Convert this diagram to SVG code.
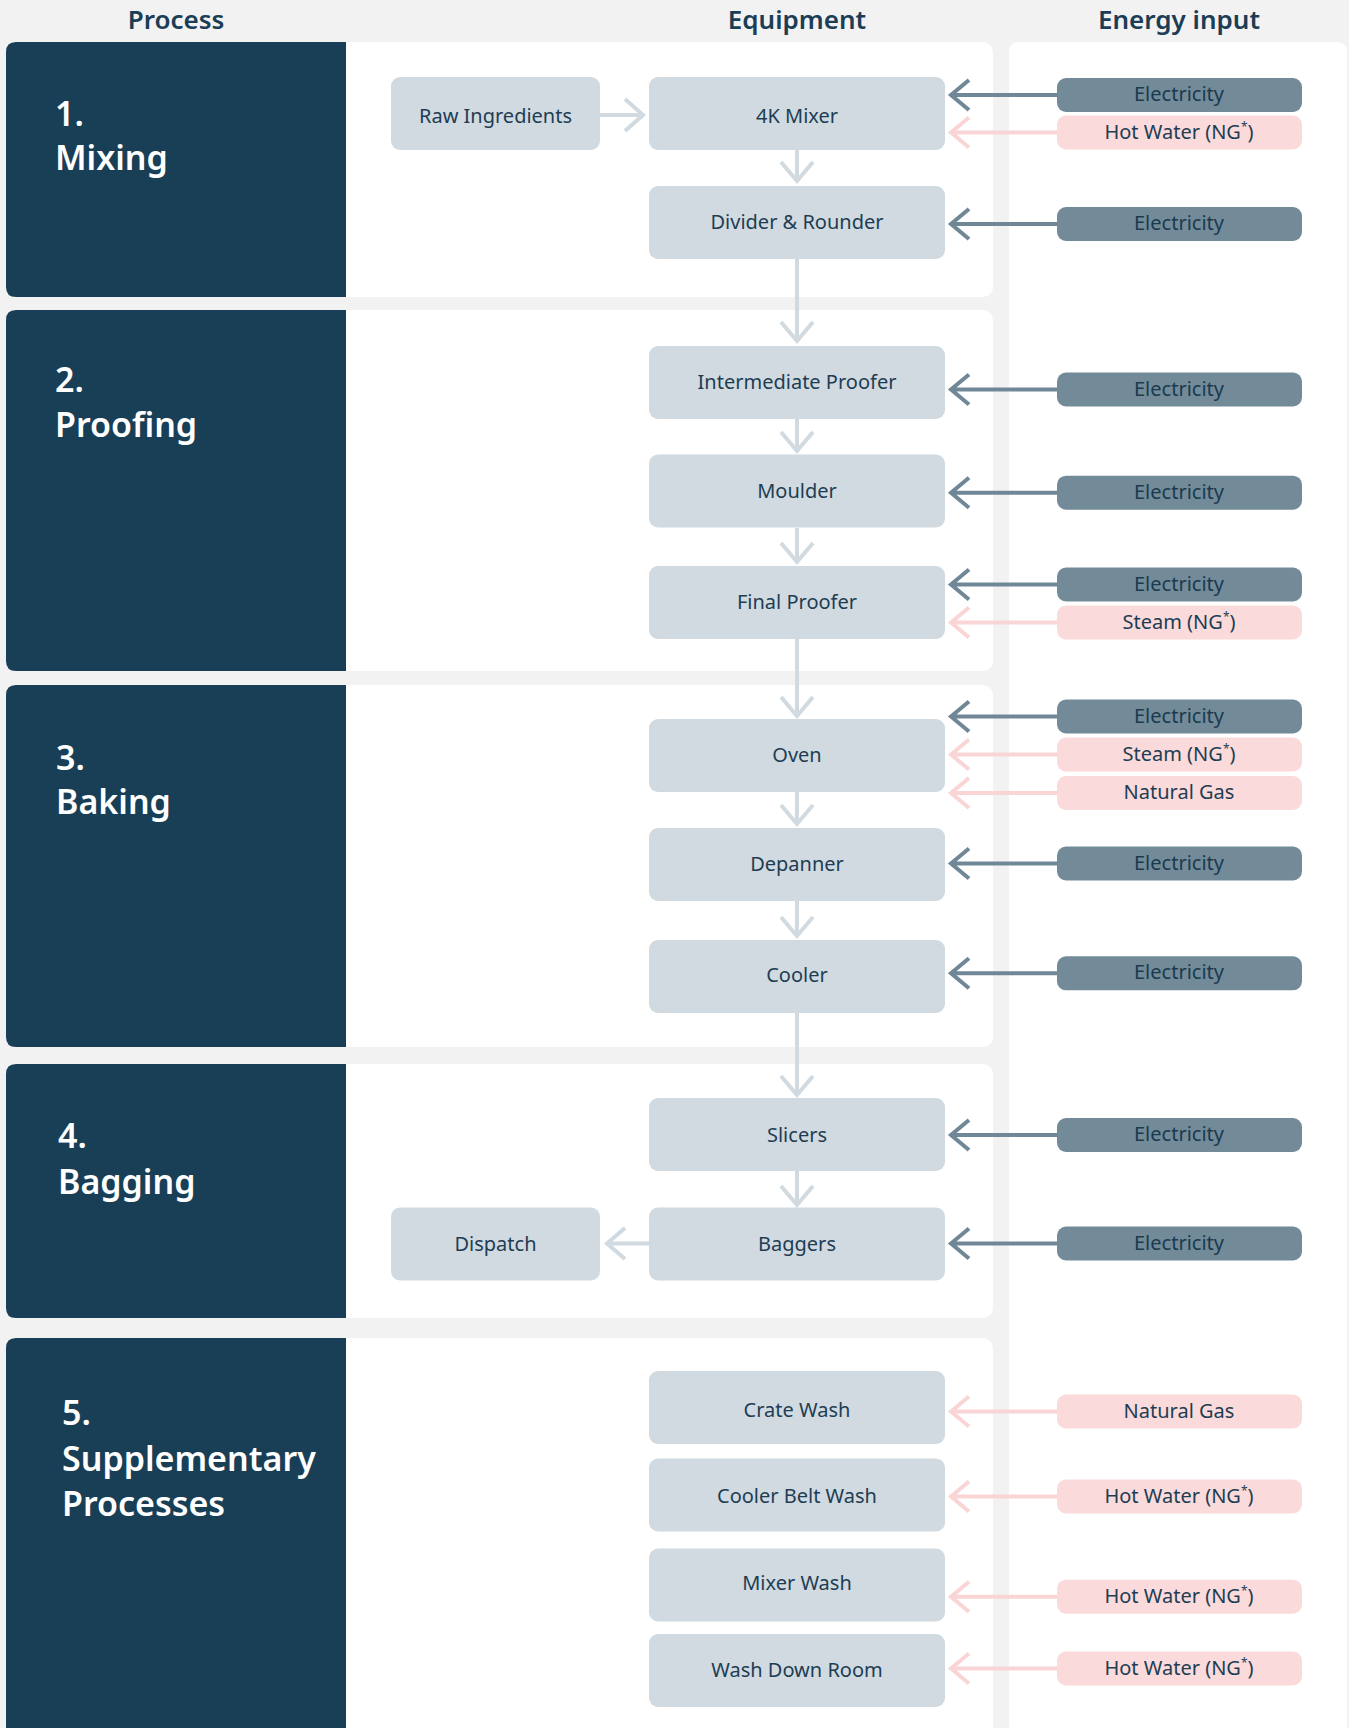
<svg xmlns="http://www.w3.org/2000/svg" width="1349" height="1728" viewBox="0 0 1349 1728">
<defs>
<style>
.bg{fill:#f2f2f2}
.panel{fill:#ffffff}
.dark{fill:#193f57}
.hdr{font-family:"Noto Sans","Open Sans",sans-serif;font-size:26px;font-weight:600;fill:#1b3d55;text-anchor:middle}
.sec{font-family:"Noto Sans","Open Sans",sans-serif;font-size:34px;font-weight:600;fill:#ffffff}
.node rect{fill:#d0dae0}
.lbl{font-family:"Noto Sans","Open Sans",sans-serif;font-size:20px;fill:#1e3d53;text-anchor:middle}
.elec rect{fill:#738b99}
.elec .lbl{fill:#1a3a50;transform:translateY(-1px)}
.ng rect{fill:#fadada}
.ng .lbl{transform:translateY(-1px)}
.sup{font-size:12px}
.c-light{stroke:#d0dae0;stroke-width:4;fill:none;stroke-linejoin:miter}
.c-dark{stroke:#6f8796;stroke-width:4;fill:none;stroke-linejoin:miter}
.c-pink{stroke:#f9d5d5;stroke-width:4;fill:none;stroke-linejoin:miter}
</style>
</defs>
<rect class="bg" x="0" y="0" width="1349" height="1728"/>

<!-- headers -->
<g id="headers">
<text class="hdr" x="176" y="29">Process</text>
<text class="hdr" x="797" y="29">Equipment</text>
<text class="hdr" x="1179" y="29">Energy input</text>
</g>

<!-- energy column panel -->
<path class="panel" d="M1009,1740 V52 Q1009,42 1019,42 H1337 Q1347,42 1347,52 V1740 Z"/>

<!-- sections -->
<g id="section-1">
<rect class="panel" x="6" y="42" width="987" height="255" rx="10"/>
<path class="dark" d="M346,42 V297 H16 Q6,297 6,287 V52 Q6,42 16,42 Z"/>
<text class="sec" x="55" y="126">1.</text>
<text class="sec" x="55" y="170">Mixing</text>
</g>
<g id="section-2">
<rect class="panel" x="6" y="310" width="987" height="361" rx="10"/>
<path class="dark" d="M346,310 V671 H16 Q6,671 6,661 V320 Q6,310 16,310 Z"/>
<text class="sec" x="55" y="392">2.</text>
<text class="sec" x="55" y="437">Proofing</text>
</g>
<g id="section-3">
<rect class="panel" x="6" y="685" width="987" height="362" rx="10"/>
<path class="dark" d="M346,685 V1047 H16 Q6,1047 6,1037 V695 Q6,685 16,685 Z"/>
<text class="sec" x="56" y="770">3.</text>
<text class="sec" x="56" y="814">Baking</text>
</g>
<g id="section-4">
<rect class="panel" x="6" y="1064" width="987" height="254" rx="10"/>
<path class="dark" d="M346,1064 V1318 H16 Q6,1318 6,1308 V1074 Q6,1064 16,1064 Z"/>
<text class="sec" x="58" y="1148">4.</text>
<text class="sec" x="58" y="1194">Bagging</text>
</g>
<g id="section-5">
<rect class="panel" x="6" y="1338" width="987" height="420" rx="10"/>
<path class="dark" d="M346,1338 V1760 H6 V1348 Q6,1338 16,1338 Z"/>
<text class="sec" x="62" y="1425">5.</text>
<text class="sec" x="62" y="1471">Supplementary</text>
<text class="sec" x="62" y="1516">Processes</text>
</g>

<!-- connectors -->
<g id="connectors">
<!-- flow -->
<path class="c-light" d="M600,115 H643 M625,99 L643,115 L625,131"/>
<path class="c-light" d="M797,150 V181 M781,162 L797,181 L813,162"/>
<path class="c-light" d="M797,259 V341 M781,322 L797,341 L813,322"/>
<path class="c-light" d="M797,419 V451 M781,432 L797,451 L813,432"/>
<path class="c-light" d="M797,528 V562 M781,543 L797,562 L813,543"/>
<path class="c-light" d="M797,639 V716 M781,697 L797,716 L813,697"/>
<path class="c-light" d="M797,792 V824 M781,805 L797,824 L813,805"/>
<path class="c-light" d="M797,901 V936 M781,917 L797,936 L813,917"/>
<path class="c-light" d="M797,1013 V1095 M781,1076 L797,1095 L813,1076"/>
<path class="c-light" d="M797,1171 V1205 M781,1186 L797,1205 L813,1186"/>
<path class="c-light" d="M649,1243.5 H607 M625,1228 L607,1243.5 L625,1259"/>
<!-- energy -->
<path class="c-dark" d="M1057,95 H951 M969,80 L951,95 L969,110"/>
<path class="c-pink" d="M1057,132.5 H951 M969,117.5 L951,132.5 L969,147.5"/>
<path class="c-dark" d="M1057,224 H951 M969,209 L951,224 L969,239"/>
<path class="c-dark" d="M1057,389.5 H951 M969,374.5 L951,389.5 L969,404.5"/>
<path class="c-dark" d="M1057,492.7 H951 M969,477.7 L951,492.7 L969,507.7"/>
<path class="c-dark" d="M1057,584.5 H951 M969,569.5 L951,584.5 L969,599.5"/>
<path class="c-pink" d="M1057,622.5 H951 M969,607.5 L951,622.5 L969,637.5"/>
<path class="c-dark" d="M1057,716.5 H951 M969,701.5 L951,716.5 L969,731.5"/>
<path class="c-pink" d="M1057,754.5 H951 M969,739.5 L951,754.5 L969,769.5"/>
<path class="c-pink" d="M1057,793 H951 M969,778 L951,793 L969,808"/>
<path class="c-dark" d="M1057,863.5 H951 M969,848.5 L951,863.5 L969,878.5"/>
<path class="c-dark" d="M1057,973.3 H951 M969,958.3 L951,973.3 L969,988.3"/>
<path class="c-dark" d="M1057,1135 H951 M969,1120 L951,1135 L969,1150"/>
<path class="c-dark" d="M1057,1243.5 H951 M969,1228.5 L951,1243.5 L969,1258.5"/>
<path class="c-pink" d="M1057,1411.5 H951 M969,1396.5 L951,1411.5 L969,1426.5"/>
<path class="c-pink" d="M1057,1496.5 H951 M969,1481.5 L951,1496.5 L969,1511.5"/>
<path class="c-pink" d="M1057,1596.7 H951 M969,1581.7 L951,1596.7 L969,1611.7"/>
<path class="c-pink" d="M1057,1668.5 H951 M969,1653.5 L951,1668.5 L969,1683.5"/>
</g>

<!-- equipment nodes -->
<g id="raw-ingredients" class="node"><rect x="391" y="77" width="209" height="73" rx="9"/><text class="lbl" x="495.5" y="122.5">Raw Ingredients</text></g>
<g id="mixer-4k" class="node"><rect x="649" y="77" width="296" height="73" rx="9"/><text class="lbl" x="797" y="122.5">4K Mixer</text></g>
<g id="divider-rounder" class="node"><rect x="649" y="186" width="296" height="73" rx="9"/><text class="lbl" x="797" y="228.5">Divider &amp; Rounder</text></g>
<g id="intermediate-proofer" class="node"><rect x="649" y="346" width="296" height="73" rx="9"/><text class="lbl" x="797" y="388.5">Intermediate Proofer</text></g>
<g id="moulder" class="node"><rect x="649" y="454.5" width="296" height="73" rx="9"/><text class="lbl" x="797" y="498">Moulder</text></g>
<g id="final-proofer" class="node"><rect x="649" y="566" width="296" height="73" rx="9"/><text class="lbl" x="797" y="608.5">Final Proofer</text></g>
<g id="oven" class="node"><rect x="649" y="719" width="296" height="73" rx="9"/><text class="lbl" x="797" y="761.5">Oven</text></g>
<g id="depanner" class="node"><rect x="649" y="828" width="296" height="73" rx="9"/><text class="lbl" x="797" y="870.5">Depanner</text></g>
<g id="cooler" class="node"><rect x="649" y="940" width="296" height="73" rx="9"/><text class="lbl" x="797" y="981.5">Cooler</text></g>
<g id="slicers" class="node"><rect x="649" y="1098" width="296" height="73" rx="9"/><text class="lbl" x="797" y="1141.5">Slicers</text></g>
<g id="baggers" class="node"><rect x="649" y="1207.5" width="296" height="73" rx="9"/><text class="lbl" x="797" y="1251">Baggers</text></g>
<g id="dispatch" class="node"><rect x="391" y="1207.5" width="209" height="73" rx="9"/><text class="lbl" x="495.5" y="1251">Dispatch</text></g>
<g id="crate-wash" class="node"><rect x="649" y="1371" width="296" height="73" rx="9"/><text class="lbl" x="797" y="1416.5">Crate Wash</text></g>
<g id="cooler-belt-wash" class="node"><rect x="649" y="1458.5" width="296" height="73" rx="9"/><text class="lbl" x="797" y="1503">Cooler Belt Wash</text></g>
<g id="mixer-wash" class="node"><rect x="649" y="1548.5" width="296" height="73" rx="9"/><text class="lbl" x="797" y="1590">Mixer Wash</text></g>
<g id="wash-down-room" class="node"><rect x="649" y="1634" width="296" height="73" rx="9"/><text class="lbl" x="797" y="1676.5">Wash Down Room</text></g>

<!-- energy inputs -->
<g id="e-mixer-elec" class="elec"><rect x="1057" y="78" width="245" height="34" rx="9"/><text class="lbl" x="1179" y="102">Electricity</text></g>
<g id="e-mixer-hw" class="ng"><rect x="1057" y="115.5" width="245" height="34" rx="9"/><text class="lbl" x="1179" y="139.5">Hot Water (NG<tspan class="sup" dy="-8">*</tspan><tspan dy="8">)</tspan></text></g>
<g id="e-divider-elec" class="elec"><rect x="1057" y="207" width="245" height="34" rx="9"/><text class="lbl" x="1179" y="231">Electricity</text></g>
<g id="e-ip-elec" class="elec"><rect x="1057" y="372.5" width="245" height="34" rx="9"/><text class="lbl" x="1179" y="396.5">Electricity</text></g>
<g id="e-moulder-elec" class="elec"><rect x="1057" y="475.7" width="245" height="34" rx="9"/><text class="lbl" x="1179" y="499.7">Electricity</text></g>
<g id="e-fp-elec" class="elec"><rect x="1057" y="567.5" width="245" height="34" rx="9"/><text class="lbl" x="1179" y="591.5">Electricity</text></g>
<g id="e-fp-steam" class="ng"><rect x="1057" y="605.5" width="245" height="34" rx="9"/><text class="lbl" x="1179" y="629.5">Steam (NG<tspan class="sup" dy="-8">*</tspan><tspan dy="8">)</tspan></text></g>
<g id="e-oven-elec" class="elec"><rect x="1057" y="699.5" width="245" height="34" rx="9"/><text class="lbl" x="1179" y="723.5">Electricity</text></g>
<g id="e-oven-steam" class="ng"><rect x="1057" y="737.5" width="245" height="34" rx="9"/><text class="lbl" x="1179" y="761.5">Steam (NG<tspan class="sup" dy="-8">*</tspan><tspan dy="8">)</tspan></text></g>
<g id="e-oven-ng" class="ng"><rect x="1057" y="776" width="245" height="34" rx="9"/><text class="lbl" x="1179" y="800">Natural Gas</text></g>
<g id="e-depanner-elec" class="elec"><rect x="1057" y="846.5" width="245" height="34" rx="9"/><text class="lbl" x="1179" y="870.5">Electricity</text></g>
<g id="e-cooler-elec" class="elec"><rect x="1057" y="956.3" width="245" height="34" rx="9"/><text class="lbl" x="1179" y="980.3">Electricity</text></g>
<g id="e-slicers-elec" class="elec"><rect x="1057" y="1118" width="245" height="34" rx="9"/><text class="lbl" x="1179" y="1142">Electricity</text></g>
<g id="e-baggers-elec" class="elec"><rect x="1057" y="1226.5" width="245" height="34" rx="9"/><text class="lbl" x="1179" y="1250.5">Electricity</text></g>
<g id="e-crate-ng" class="ng"><rect x="1057" y="1394.5" width="245" height="34" rx="9"/><text class="lbl" x="1179" y="1418.5">Natural Gas</text></g>
<g id="e-belt-hw" class="ng"><rect x="1057" y="1479.5" width="245" height="34" rx="9"/><text class="lbl" x="1179" y="1503.5">Hot Water (NG<tspan class="sup" dy="-8">*</tspan><tspan dy="8">)</tspan></text></g>
<g id="e-mixerwash-hw" class="ng"><rect x="1057" y="1579.7" width="245" height="34" rx="9"/><text class="lbl" x="1179" y="1603.7">Hot Water (NG<tspan class="sup" dy="-8">*</tspan><tspan dy="8">)</tspan></text></g>
<g id="e-washdown-hw" class="ng"><rect x="1057" y="1651.5" width="245" height="34" rx="9"/><text class="lbl" x="1179" y="1675.5">Hot Water (NG<tspan class="sup" dy="-8">*</tspan><tspan dy="8">)</tspan></text></g>
</svg>
